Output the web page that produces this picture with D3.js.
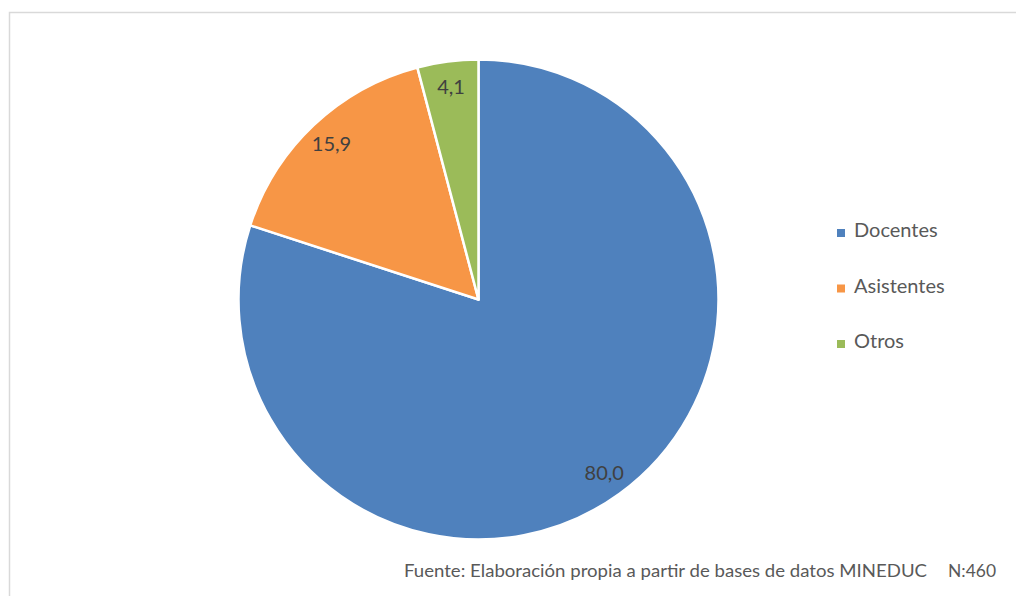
<!DOCTYPE html>
<html>
<head>
<meta charset="utf-8">
<script src="https://cdn.jsdelivr.net/npm/d3@7"></script>
<style>
  html, body { margin: 0; padding: 0; background: #fff; }
  svg { display: block; }
  text { font-family: Lato, "Open Sans", sans-serif; }
</style>
</head>
<body>
<svg id="chart" width="1016" height="596"></svg>
<script>
// Distribución del personal (%)
const categories = ["Docentes", "Asistentes", "Otros"];
const values = [80.0, 15.9, 4.1];
const colors = ["#4f81bd", "#f79646", "#9bbb59"];
const sourceNote = "Fuente: Elaboración propia a partir de bases de datos MINEDUC";
const sampleNote = "N:460";

const data = categories.map((c, i) => ({ name: c, value: values[i] }));
const svg = d3.select("#chart");

// chart frame
svg.append("rect")
  .attr("x", 9.5).attr("y", 12.5)
  .attr("width", 1100).attr("height", 700)
  .attr("fill", "none")
  .attr("stroke", "#d9d9d9")
  .attr("stroke-width", 1.5);

const cx = 478.5, cy = 299.5, radius = 240;
const color = d3.scaleOrdinal().domain(categories).range(colors);

const pie = d3.pie().value(d => d.value).sort(null);
const arc = d3.arc().innerRadius(0).outerRadius(radius);
const labelArc = d3.arc().innerRadius(214).outerRadius(214);

const g = svg.append("g").attr("transform", `translate(${cx},${cy})`);
const arcs = pie(data);

g.selectAll("path.slice")
  .data(arcs)
  .join("path")
  .attr("class", "slice")
  .attr("d", arc)
  .attr("fill", d => color(d.data.name))
  .attr("stroke", "#fff")
  .attr("stroke-width", 2.5)
  .attr("stroke-linejoin", "round");

const fmt = v => d3.format(".1f")(v).replace(".", ",");
g.selectAll("text.val")
  .data(arcs)
  .join("text")
  .attr("class", "val")
  .attr("transform", d => `translate(${labelArc.centroid(d)})`)
  .attr("text-anchor", "middle")
  .attr("dy", "0.36em")
  .attr("font-size", 20)
  .attr("fill", "#404040")
  .text(d => fmt(d.data.value));

// legend
const legend = svg.append("g").attr("transform", "translate(837,237)");
const item = legend.selectAll("g")
  .data(categories)
  .join("g")
  .attr("transform", (d, i) => `translate(0,${i * 55.5})`);
item.append("rect")
  .attr("x", 0).attr("y", -8)
  .attr("width", 8).attr("height", 8)
  .attr("fill", d => color(d));
item.append("text")
  .attr("x", 17).attr("y", 0)
  .attr("font-size", 20)
  .attr("fill", "#595959")
  .text(d => d);

// source note
svg.append("text")
  .attr("x", 404).attr("y", 577)
  .attr("font-size", 17.5)
  .attr("textLength", 523)
  .attr("lengthAdjust", "spacingAndGlyphs")
  .attr("fill", "#595959")
  .text(sourceNote);
svg.append("text")
  .attr("x", 948).attr("y", 577)
  .attr("font-size", 17.5)
  .attr("textLength", 48)
  .attr("lengthAdjust", "spacingAndGlyphs")
  .attr("fill", "#595959")
  .text(sampleNote);
</script>
</body>
</html>
